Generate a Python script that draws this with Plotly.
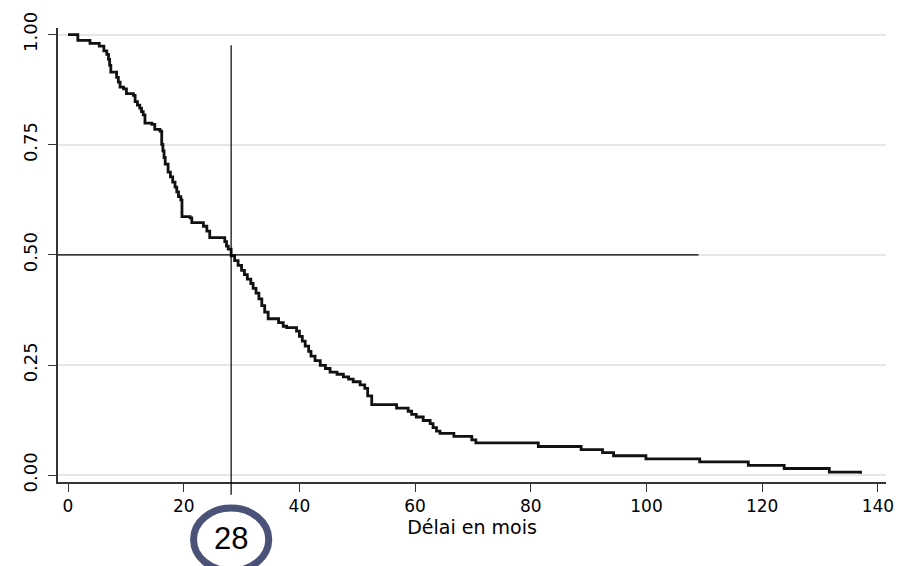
import plotly.graph_objects as go

# Kaplan-Meier style step curve (time in months, survival proportion after the step)
times = [0, 1.7, 3.8, 5.4, 6.2, 6.7, 7.0, 7.2, 7.4, 8.4, 8.7, 9.0, 9.6, 10.1, 11.3, 11.6,
         12.0, 12.4, 12.7, 13.0, 13.3, 14.5, 15.0, 15.9, 16.2, 16.4, 16.6, 16.8, 17.3,
         17.7, 18.1, 18.5, 18.8, 19.1, 19.5, 19.7, 21.1, 21.4, 23.4, 24.0, 24.5, 27.1,
         27.4, 27.7, 28.2, 28.8, 29.4, 30.0, 30.5, 31.0, 31.6, 32.0, 32.5, 33.0, 33.5,
         34.0, 34.6, 36.4, 37.2, 37.8, 39.5, 40.0, 40.5, 41.0, 41.6, 42.0, 42.7, 43.6,
         44.5, 45.3, 46.5, 47.6, 48.5, 49.3, 50.5, 51.3, 51.8, 52.5, 56.8, 58.8, 59.4,
         60.2, 61.4, 62.6, 63.1, 63.7, 64.3, 66.7, 69.8, 70.5, 81.3, 88.7, 92.4, 94.3,
         99.9, 109.2, 117.6, 123.8, 131.6, 137.0]
survival = [1.000, 0.987, 0.980, 0.974, 0.963, 0.955, 0.944, 0.930, 0.915, 0.903, 0.892,
            0.881, 0.877, 0.866, 0.862, 0.848, 0.840, 0.833, 0.825, 0.818, 0.799, 0.796,
            0.785, 0.781, 0.751, 0.736, 0.721, 0.706, 0.688, 0.677, 0.665, 0.654, 0.643,
            0.632, 0.625, 0.587, 0.584, 0.573, 0.565, 0.554, 0.539, 0.530, 0.520, 0.513,
            0.498, 0.487, 0.476, 0.465, 0.455, 0.445, 0.435, 0.424, 0.413, 0.400, 0.385,
            0.370, 0.355, 0.346, 0.338, 0.335, 0.327, 0.315, 0.304, 0.293, 0.281, 0.270,
            0.260, 0.249, 0.242, 0.234, 0.229, 0.223, 0.218, 0.212, 0.205, 0.197, 0.180,
            0.160, 0.152, 0.145, 0.138, 0.132, 0.124, 0.117, 0.108, 0.100, 0.095, 0.088,
            0.080, 0.073, 0.065, 0.058, 0.051, 0.044, 0.037, 0.030, 0.022, 0.015, 0.007,
            0.003]

x_ticks = [0, 20, 40, 60, 80, 100, 120, 140]
y_ticks = [0.00, 0.25, 0.50, 0.75, 1.00]
y_tick_labels = ["0.00", "0.25", "0.50", "0.75", "1.00"]

median_time = 28.2
median_label = "28"
half_level = 0.5
half_line_end = 109
x_title = "Délai en mois"

fig = go.Figure()
fig.add_trace(go.Scatter(
    x=times, y=survival, mode="lines", line_shape="hv",
    line=dict(color="#111111", width=2.8), showlegend=False, hoverinfo="x+y"))

font_main = "DejaVu Sans"
fig.update_layout(
    width=908, height=566,
    margin=dict(l=58, r=22, t=20, b=84),
    paper_bgcolor="white", plot_bgcolor="white",
    font=dict(family=font_main, size=17, color="black"),
    xaxis=dict(range=[-1.73, 141.4], tickvals=x_ticks, ticks="outside", ticklen=8,
               tickwidth=1.3, tickcolor="#333333", showline=True, linecolor="#333333",
               linewidth=1.5, showgrid=False, zeroline=False,
               title=dict(text=x_title, font=dict(size=19), standoff=6)),
    yaxis=dict(range=[-0.0156, 1.015], tickvals=y_ticks, ticktext=y_tick_labels,
               tickangle=-90, ticks="outside", ticklen=8, tickwidth=1.3,
               tickfont=dict(size=18), ticklabelstandoff=4,
               tickcolor="#333333", showline=True, linecolor="#333333", linewidth=1.5,
               showgrid=True, gridcolor="#e6e6e6", gridwidth=1.5, zeroline=False),
)

# horizontal line at 50 %
fig.add_shape(type="line", xref="x", yref="y", x0=-1.73, x1=half_line_end,
              y0=half_level, y1=half_level, line=dict(color="black", width=1.2))
# vertical line at the median (extends below the axis)
fig.add_shape(type="line", xref="x", yref="paper", x0=median_time, x1=median_time,
              y0=-0.028, y1=0.962, line=dict(color="black", width=1.2))
# circle around the median label
fig.add_shape(type="circle", xref="x", yref="paper",
              x0=median_time - 6.5, x1=median_time + 6.5, y0=-0.196, y1=-0.0574,
              line=dict(color="#4b5277", width=7), fillcolor="white")
fig.add_annotation(x=median_time, y=-0.1255, xref="x", yref="paper", text=median_label,
                   showarrow=False, font=dict(family="Liberation Sans", size=31, color="black"),
                   xanchor="center", yanchor="middle")

fig.write_html("out.html", config={"displayModeBar": False},
               post_script="document.body.style.margin='0px';")
